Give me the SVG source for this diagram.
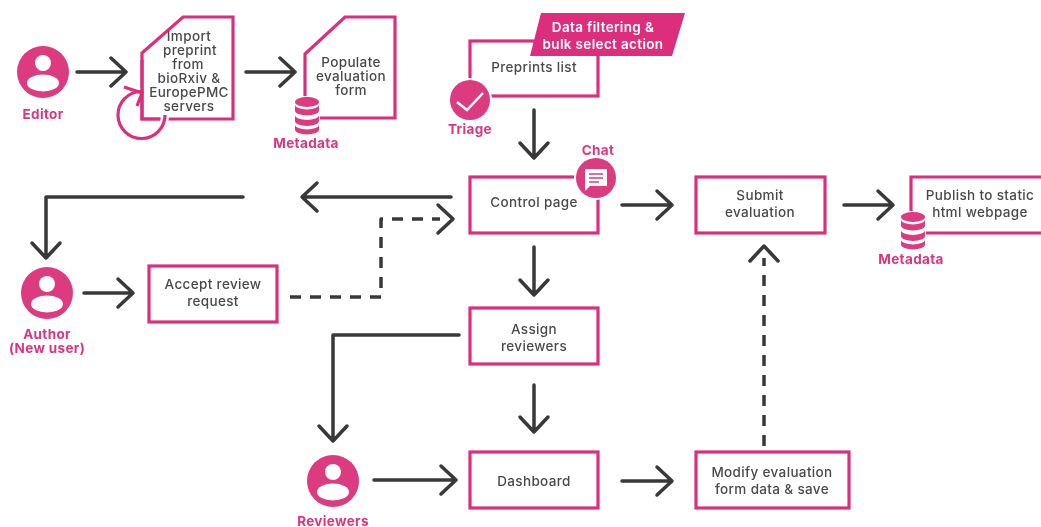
<svg xmlns="http://www.w3.org/2000/svg" width="1041" height="527" viewBox="0 0 1041 527">
<style>
text{font-family:Inter,"Open Sans","Liberation Sans",sans-serif;text-anchor:middle;letter-spacing:.35px}
.l{font-size:13.5px;font-weight:500;fill:#4a4a4a}
.p{font-size:13.5px;font-weight:700;fill:#e0337f}
.w{font-size:13.5px;font-weight:600;fill:#fff}
.b{fill:#fff;stroke:#dc2f7d;stroke-width:3.2}
.o{fill:none;stroke:#dc2f7d;stroke-width:3.2}
.a{fill:none;stroke:#383838;stroke-width:3.5;stroke-linecap:round;stroke-linejoin:round}
.d{stroke-dasharray:11 9;stroke-linecap:butt}
.f{fill:#dc3a80}
</style>
<defs>
<filter id="s" x="-2%" y="-2%" width="104%" height="104%"><feGaussianBlur stdDeviation="0.7"/></filter>
<g id="person"><circle r="26" class="f"/><circle cy="-9" r="8" fill="#fff"/><ellipse cy="11" rx="16" ry="8.500" fill="#fff"/></g>
<g id="db"><rect x="-13" y="-19" width="26" height="38" fill="#fff"/><ellipse cy="-13" rx="12" ry="5" class="f"/><path class="f" d="M-12-10.500a12 5 0 0 0 24 0v6a12 5 0 0 1-24 0zM-12 0a12 5 0 0 0 24 0v6a12 5 0 0 1-24 0zM-12 9.500a12 5 0 0 0 24 0v5a12 5 0 0 1-24 0z"/></g>
</defs>
<rect width="1041" height="527" fill="#fff"/>
<g filter="url(#s)">
<g id="connectors">
<path class="a" d="M77 72H125M111 58L126 72L111 86"/>
<path class="a" d="M246 72H294M280 58L295 72L280 86"/>
<path class="a" d="M534 110V157M520 143L534 158L548 143"/>
<path class="a" d="M622 205H671M657 191L672 205L657 219"/>
<path class="a" d="M844 205H892M878 191L893 205L878 219"/>
<path class="a" d="M451 197H303M317 183L302 197L317 211"/>
<path class="a" d="M243 197H46V257M32 243L46 258L60 243"/>
<path class="a" d="M84 293H132M118 279L133 293L118 307"/>
<path class="a d" d="M290 297H381V219H440"/>
<path class="a" d="M438 205L453 219L438 233"/>
<path class="a" d="M534 247V294M520 280L534 295L548 280"/>
<path class="a" d="M459 335H333V440M319 426L333 441L347 426"/>
<path class="a" d="M534 385V431M520 417L534 432L548 417"/>
<path class="a" d="M374 480H455M441 466L456 480L441 494"/>
<path class="a" d="M622 481H671M657 467L672 481L657 495"/>
<path class="a d" d="M764 446V258"/>
<path class="a" d="M750 261L764 246L778 261"/>
</g>
<g id="editor"><use href="#person" x="43" y="72"/><text class="p" x="43" y="119">Editor</text></g>
<g id="import-preprint">
<path class="b" d="M142 53L183 17H233V119H142Z"/>
<path d="M165 115A23.500 23.500 0 1 1 141 91.500" fill="none" stroke="#fff" stroke-width="8"/>
<path d="M142 60V119H160" class="o"/>
<path d="M165 115A23.500 23.500 0 1 1 141 91.500" class="o"/>
<path d="M124 87L142 93L137 106" class="o"/>
<text class="l" x="189" y="41">Import</text>
<text class="l" x="190" y="55">preprint</text>
<text class="l" x="188" y="69">from</text>
<text class="l" x="189" y="83">bioRxiv &amp;</text>
<text class="l" x="189" y="97">EuropePMC</text>
<text class="l" x="189" y="111">servers</text>
</g>
<g id="populate-form">
<path class="b" d="M305 54L345 17H395V118H305Z"/>
<use href="#db" x="307" y="115"/>
<text class="l" x="351" y="67">Populate</text>
<text class="l" x="351" y="81">evaluation</text>
<text class="l" x="351" y="95">form</text>
<text class="p" x="306" y="148">Metadata</text>
</g>
<g id="preprints-list">
<rect class="b" x="470" y="41" width="128" height="55"/>
<text class="l" x="534" y="72">Preprints list</text>
</g>
<g id="filter-note">
<path d="M541 13H685L672 56H530Z" fill="#dc2f7d"/>
<text class="w" x="603" y="32">Data filtering &amp;</text>
<text class="w" x="603" y="49">bulk select action</text>
</g>
<g id="triage">
<circle cx="470" cy="100" r="22" fill="#fff"/><circle cx="470" cy="100" r="20" class="f"/>
<path d="M457 102L467 110L483 93" fill="none" stroke="#fff" stroke-width="2.500"/>
<text class="p" x="470" y="134">Triage</text>
</g>
<g id="control-page">
<rect class="b" x="470" y="177" width="128" height="56"/>
<text class="l" x="534" y="207">Control page</text>
</g>
<g id="chat">
<circle cx="596" cy="178" r="22" fill="#fff"/><circle cx="596" cy="178" r="20" class="f"/>
<path d="M585 169H607V186H590L585 191Z" fill="#fff"/>
<path d="M589 174H603M589 178H603M589 182H599" stroke="#dc3a80" stroke-width="1.600"/>
<text class="p" x="598" y="155">Chat</text>
</g>
<g id="submit">
<rect class="b" x="696" y="177" width="129" height="56"/>
<text class="l" x="760" y="200">Submit</text>
<text class="l" x="760" y="217">evaluation</text>
</g>
<g id="publish">
<path class="b" d="M1045 177H911V233H1045"/>
<text class="l" x="980" y="200">Publish to static</text>
<text class="l" x="980" y="217">html webpage</text>
<use href="#db" x="913" y="230"/>
<text class="p" x="911" y="264">Metadata</text>
</g>
<g id="author"><use href="#person" x="47" y="293"/>
<text class="p" x="47" y="339">Author</text><text class="p" x="47" y="353">(New user)</text></g>
<g id="accept">
<rect class="b" x="149" y="266" width="128" height="56"/>
<text class="l" x="213" y="289">Accept review</text>
<text class="l" x="213" y="306">request</text>
</g>
<g id="assign">
<rect class="b" x="470" y="308" width="128" height="56"/>
<text class="l" x="534" y="334">Assign</text>
<text class="l" x="534" y="351">reviewers</text>
</g>
<g id="reviewers"><use href="#person" x="333" y="481"/><text class="p" x="333" y="526">Reviewers</text></g>
<g id="dashboard">
<rect class="b" x="470" y="452" width="128" height="56"/>
<text class="l" x="534" y="486">Dashboard</text>
</g>
<g id="modify">
<rect class="b" x="696" y="452" width="153" height="56"/>
<text class="l" x="772" y="477">Modify evaluation</text>
<text class="l" x="772" y="494">form data &amp; save</text>
</g>
</g>
</svg>
